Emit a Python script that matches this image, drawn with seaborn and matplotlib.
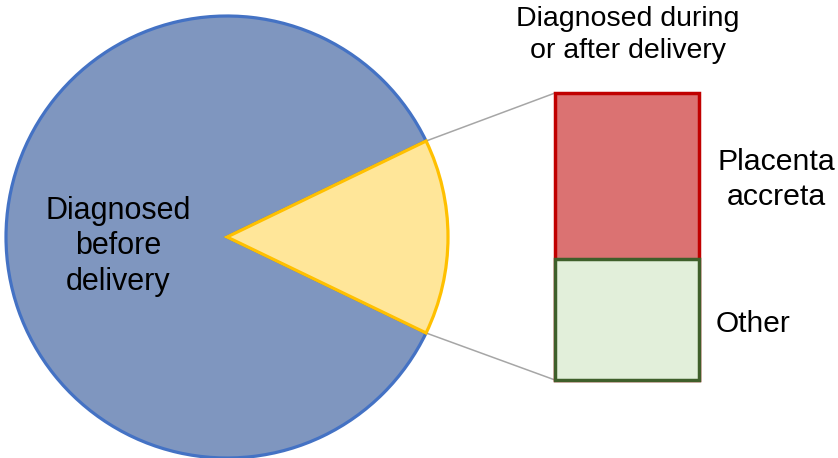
import matplotlib
matplotlib.use("Agg")
import matplotlib.pyplot as plt
from matplotlib.patches import ConnectionPatch
import numpy as np
import pandas as pd
import seaborn as sns

# ---- data ----
pie_labels = ["Diagnosed before delivery", "Diagnosed during or after delivery"]
pie_values = [85.7, 14.3]
bar_labels = ["Placenta accreta", "Other"]
bar_values = [0.58, 0.42]

sns.set_theme(style="white")
plt.rcParams["font.family"] = ["Liberation Sans", "DejaVu Sans"]

W, H = 838, 458
fig = plt.figure(figsize=(W / 100, H / 100), dpi=100)
fig.patch.set_facecolor("white")

# ---- pie ----
cx, cy, r_px = 227, 237, 221
half = 230
lim = half / r_px
ax_pie = fig.add_axes([(cx - half) / W, (H - cy - half) / H, 2 * half / W, 2 * half / H])
frac_small = pie_values[1] / sum(pie_values)
start = frac_small * 360 / 2
wedges, _ = ax_pie.pie(
    pie_values, startangle=start, counterclock=True, radius=1,
    colors=["#7F96BF", "#FFE699"],
    wedgeprops=dict(linewidth=2.3, joinstyle="miter"),
)
wedges[0].set_edgecolor("#4472C4")
wedges[1].set_edgecolor("#FFC000")
for w in wedges:
    w.set_clip_on(False)
ax_pie.set_xlim(-lim, lim)
ax_pie.set_ylim(-lim, lim)
ax_pie.set_aspect("equal")
ax_pie.axis("off")

# ---- stacked bar ----
bl, br, bt, bb = 555, 699, 93, 380
ax_bar = fig.add_axes([bl / W, (H - bb) / H, (br - bl) / W, (bb - bt) / H])
total = sum(bar_values)
df_top = pd.DataFrame({"grp": ["x"], "val": [total]})
df_bot = pd.DataFrame({"grp": ["x"], "val": [bar_values[1]]})
sns.barplot(data=df_top, x="grp", y="val", width=1, color="#DB7272",
            edgecolor="#C00000", linewidth=2.5, saturation=1, ax=ax_bar)
sns.barplot(data=df_bot, x="grp", y="val", width=1, color="#E2EFDA",
            edgecolor="#3F5F2A", linewidth=2.5, saturation=1, ax=ax_bar)
for p in ax_bar.patches:
    p.set_clip_on(False)
    p.set_joinstyle("miter")
ax_bar.set_xlim(-0.5, 0.5)
ax_bar.set_ylim(0, total)
ax_bar.axis("off")

# ---- connector lines ----
ang = np.deg2rad(start)
for sgn, yb in [(1, total), (-1, 0)]:
    con = ConnectionPatch(xyA=(np.cos(ang), sgn * np.sin(ang)), coordsA=ax_pie.transData,
                          xyB=(-0.5, yb), coordsB=ax_bar.transData,
                          color="#A6A6A6", linewidth=1.1)
    fig.add_artist(con)
    con.set_zorder(0)

# ---- texts ----
fig.text(118 / W, (H - 290) / H, "Diagnosed\nbefore\ndelivery", ha="center", va="baseline",
         multialignment="center", fontsize=22, linespacing=1.25, color="black")
fig.text(628 / W, (H - 58) / H, "Diagnosed during\nor after delivery", ha="center", va="baseline",
         multialignment="center", fontsize=20.5, linespacing=1.3, color="black")
fig.text(776 / W, (H - 205) / H, "Placenta\naccreta", ha="center", va="baseline",
         multialignment="center", fontsize=21.8, linespacing=1.3, color="black")
fig.text(716 / W, (H - 332) / H, "Other", ha="left", va="baseline",
         fontsize=21.5, color="black")

fig.savefig("out.png", dpi=100, facecolor="white")
